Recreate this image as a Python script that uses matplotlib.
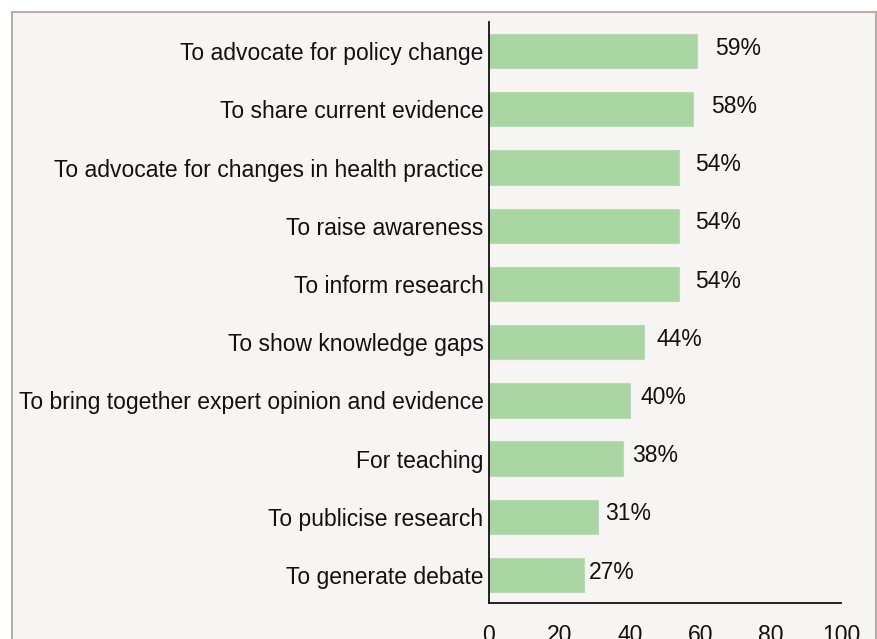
"""Horizontal bar chart: reasons for using the evidence summaries."""
import matplotlib
matplotlib.use("Agg")
import matplotlib.pyplot as plt
from matplotlib.patches import Rectangle

categories = [
    "To advocate for policy change",
    "To share current evidence",
    "To advocate for changes in health practice",
    "To raise awareness",
    "To inform research",
    "To show knowledge gaps",
    "To bring together expert opinion and evidence",
    "For teaching",
    "To publicise research",
    "To generate debate",
]
percents = [59, 58, 54, 54, 54, 44, 40, 38, 31, 27]
xticks = [0, 20, 40, 60, 80, 100]

BAR = "#a9d5a3"
BG = "#f6f5f3"
EDGE = "#b9aea5"

plt.rcParams["font.family"] = ["Liberation Sans", "DejaVu Sans"]

fig = plt.figure(figsize=(8.77, 6.39), dpi=100)
fig.patch.set_facecolor("white")
# framed panel behind the chart (runs off the bottom of the image)
fig.patches.append(Rectangle((12 / 877, -0.05), 864 / 877, 1.05 - 12 / 639,
                             transform=fig.transFigure, facecolor=BG,
                             edgecolor=EDGE, linewidth=1.5, zorder=-5))

ax = fig.add_axes([489 / 877, 1 - 603 / 639, 352 / 877, 581 / 639])
ax.set_facecolor("none")
ax.set_zorder(2)

ypos = list(range(len(categories)))[::-1]
ax.barh(ypos, percents, height=0.59, color=BAR, edgecolor="#b8dcb2",
        linewidth=0.8)

for y, v in zip(ypos, percents):
    ax.text(1.12 * v - 1.8, y + 0.05, f"{v}%", va="center", ha="left",
            fontsize=16.5, color="#111111")

ax.set_xlim(0, 100)
ax.set_ylim(-0.48, 9.5)
ax.set_yticks(ypos)
ax.set_yticklabels(categories, fontsize=16.5, color="#111111")
ax.set_xticks(xticks)
ax.set_xticklabels([str(t) for t in xticks], fontsize=16.5, color="#111111")
ax.tick_params(axis="both", length=0)
ax.tick_params(axis="x", pad=15)
ax.tick_params(axis="y", pad=4)
for s in ("top", "right"):
    ax.spines[s].set_visible(False)
for s in ("left", "bottom"):
    ax.spines[s].set_linewidth(1.3)
    ax.spines[s].set_color("#111111")

fig.savefig("out.png", dpi=100, facecolor="white")
